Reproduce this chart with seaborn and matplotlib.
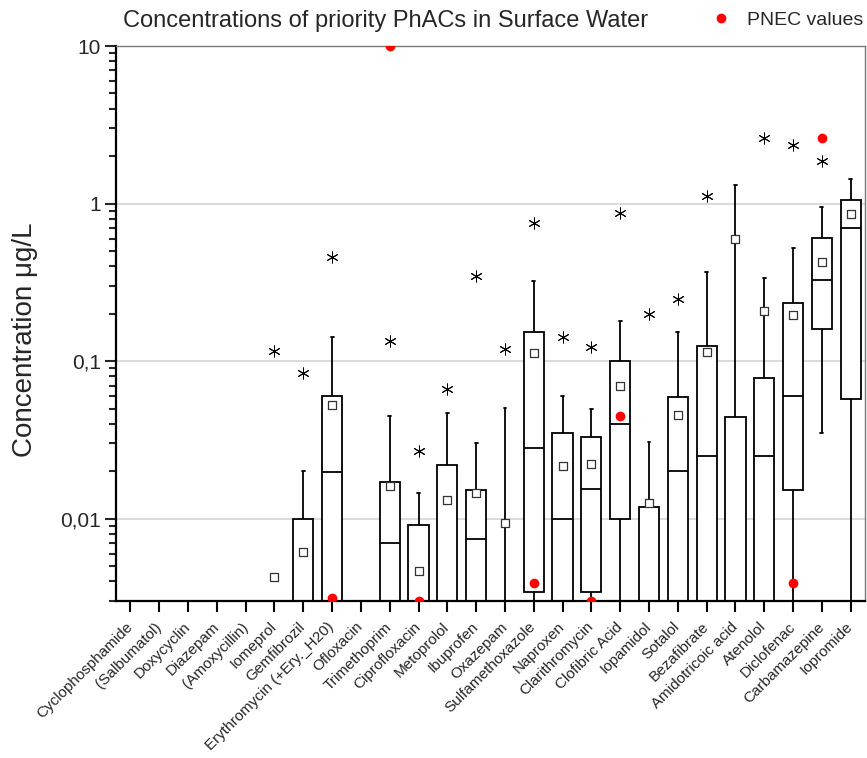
import numpy as np
import pandas as pd
import matplotlib
matplotlib.use("Agg")
import matplotlib.pyplot as plt
import seaborn as sns
from matplotlib.lines import Line2D
from matplotlib.transforms import ScaledTranslation
from matplotlib.ticker import FuncFormatter, NullFormatter, LogLocator

nan = np.nan

compounds = [
    "Cyclophosphamide", "(Salbumatol)", "Doxycyclin", "Diazepam", "(Amoxycillin)",
    "Iomeprol", "Gemfibrozil", "Erythromycin (+Ery._H20)", "Ofloxacin", "Trimethoprim",
    "Ciprofloxacin", "Metoprolol", "Ibuprofen", "Oxazepam", "Sulfamethoxazole",
    "Naproxen", "Clarithromycin", "Clofibric Acid", "Iopamidol", "Sotalol",
    "Bezafibrate", "Amidotricoic acid", "Atenolol", "Diclofenac", "Carbamazepine",
    "Iopromide",
]

# box statistics in ug/L (values below 0.003 are off the chart)
whisker_low = [nan, nan, nan, nan, nan, nan, 0.001, 0.001, nan, 0.001,
               0.001, 0.001, 0.001, 0.001, 0.001, 0.001, 0.001, 0.001, 0.001, 0.001,
               0.001, 0.001, 0.001, 0.001, 0.0352, 0.001]
q1 = [nan, nan, nan, nan, nan, nan, 0.002, 0.002, nan, 0.002,
      0.002, 0.002, 0.002, 0.0015, 0.0034, 0.002, 0.00344, 0.01, 0.002, 0.002,
      0.002, 0.002, 0.002, 0.0151, 0.161, 0.0578]
median = [nan, nan, nan, nan, nan, nan, 0.0025, 0.0199, nan, 0.00704,
          0.0025, 0.0025, 0.00746, 0.0018, 0.0282, 0.01, 0.0155, 0.0401, 0.0025, 0.0202,
          0.0251, 0.0025, 0.0251, 0.0604, 0.329, 0.704]
q3 = [nan, nan, nan, nan, nan, nan, 0.01, 0.0604, nan, 0.0172,
      0.00916, 0.022, 0.0151, 0.002, 0.154, 0.0352, 0.0332, 0.1007, 0.0119, 0.0595,
      0.125, 0.0444, 0.0785, 0.235, 0.608, 1.06]
whisker_high = [nan, nan, nan, nan, nan, nan, 0.0202, 0.143, nan, 0.045,
                0.0146, 0.0471, 0.030, 0.0507, 0.324, 0.0604, 0.0499, 0.181, 0.0308, 0.152,
                0.37, 1.32, 0.339, 0.526, 0.957, 1.44]
mean_vals = [nan, nan, nan, nan, nan, 0.00428, 0.00617, 0.053, nan, 0.016,
             0.00468, 0.0132, 0.0146, 0.00944, 0.113, 0.0217, 0.0223, 0.0699, 0.0125, 0.0457,
             0.115, 0.60, 0.209, 0.197, 0.428, 0.864]
max_vals = [nan, nan, nan, nan, nan, 0.1166, 0.0845, 0.461, nan, 0.135,
            0.027, 0.0669, 0.349, 0.12, 0.757, 0.143, 0.1236, 0.877, 0.20, 0.249,
            1.12, nan, 2.59, 2.37, 1.875, nan]
pnec_vals = [nan, nan, nan, nan, nan, nan, nan, 0.00315, nan, 10.0,
             0.003, nan, nan, nan, 0.00392, nan, 0.003, 0.045, nan, nan,
             nan, nan, nan, 0.0039, 2.59, nan]


def long_frame(*cols):
    rows = []
    for i, name in enumerate(compounds):
        for col in cols:
            if not np.isnan(col[i]):
                rows.append({"compound": name, "value": col[i]})
    return pd.DataFrame(rows)


box_df = long_frame(whisker_low, q1, median, q3, whisker_high)
mean_df = long_frame(mean_vals)
max_df = long_frame(max_vals)
pnec_df = long_frame(pnec_vals)

sns.set_theme(style="ticks")
plt.rcParams["font.family"] = ["Liberation Sans", "DejaVu Sans"]

fig = plt.figure(figsize=(8.67, 7.58), dpi=100)
ax = fig.add_axes([0.1338, 0.2071, 0.864, 0.7322])
ax.set_yscale("log")
ax.set_axisbelow(True)
ax.yaxis.grid(True, which="major", color="#d4d4d4", linewidth=1.2)

sns.boxplot(data=box_df, x="compound", y="value", order=compounds, ax=ax,
            whis=(0, 100), width=0.7, fill=True, color="white", linecolor="black",
            linewidth=1.3, showfliers=False, capwidths=0.1)

sns.stripplot(data=mean_df, x="compound", y="value", order=compounds, ax=ax,
              jitter=False, marker="s", size=6, color="white", edgecolor="#333333",
              linewidth=0.9, zorder=5)
sns.stripplot(data=max_df, x="compound", y="value", order=compounds, ax=ax,
              jitter=False, marker=(6, 2, 0), size=8, color="black",
              linewidth=0.7, zorder=5)
sns.stripplot(data=pnec_df, x="compound", y="value", order=compounds, ax=ax,
              jitter=False, marker="o", size=7, color="red", linewidth=0, zorder=6)

ax.set_xlim(-0.5, 25.5)
ax.set_ylim(0.003, 10)
ax.yaxis.set_major_locator(LogLocator(base=10, numticks=10))
ax.yaxis.set_major_formatter(FuncFormatter(lambda v, p: f"{v:g}".replace(".", ",")))
ax.yaxis.set_minor_formatter(NullFormatter())

ax.set_xlabel("")
ax.set_ylabel("Concentration \u03bcg/L", fontsize=20)
ax.yaxis.set_label_coords(-0.104, 0.47)
ax.set_xticks(range(len(compounds)))
ax.set_xticklabels(compounds, rotation=45, ha="right", va="center",
                   rotation_mode="anchor", fontsize=11)
shift = ScaledTranslation(4 / 100, 0, fig.dpi_scale_trans)
for lbl in ax.get_xticklabels():
    lbl.set_transform(lbl.get_transform() + shift)
ax.tick_params(axis="x", length=8, width=1.5, color="black", pad=9)
ax.tick_params(axis="y", which="major", length=8, width=1.5, labelsize=15, pad=3)
ax.tick_params(axis="y", which="minor", length=5, width=1.5)

for side in ["left", "bottom"]:
    ax.spines[side].set_color("black")
    ax.spines[side].set_linewidth(1.6)
for side in ["top", "right"]:
    ax.spines[side].set_visible(True)
    ax.spines[side].set_color("#777777")
    ax.spines[side].set_linewidth(1.0)

fig.text(0.142, 1 - 21 / 758, "Concentrations of priority PhACs in Surface Water",
         fontsize=17, ha="left", va="center")
pnec_handle = Line2D([], [], marker="o", color="red", linestyle="", markersize=6)
fig.legend(handles=[pnec_handle], labels=["PNEC values"], loc="center right",
           bbox_to_anchor=(863 / 867, 1 - 20 / 758), frameon=False, fontsize=14,
           handletextpad=0.6, handlelength=1.5, borderaxespad=0, borderpad=0)

fig.savefig("out.png", dpi=100)
